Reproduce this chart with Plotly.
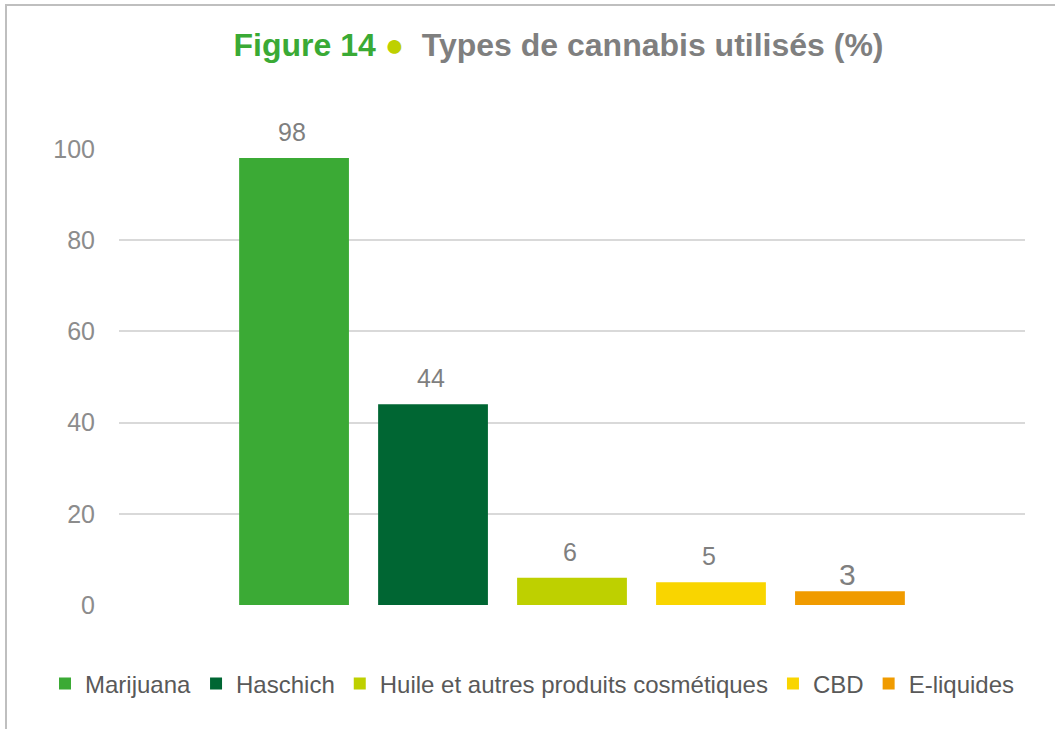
import plotly.graph_objects as go

categories = ["Marijuana", "Haschich", "Huile et autres produits cosmétiques", "CBD", "E-liquides"]
values = [98, 44, 6, 5, 3]
colors = ["#3BAA35", "#006633", "#BED000", "#F9D500", "#F09B00"]
y_ticks = [0, 20, 40, 60, 80, 100]

# label styles (not data)
label_sizes = [25, 25, 25, 25, 30]
label_shifts = [10, 10, 10, 10, -2]

W, H = 1055, 729
ml, mr, mt, mb = 119, 30, 149, 124
pw, ph = W - ml - mr, H - mt - mb
bargap, bargroupgap = 0.233, 0.21
slot_px = pw * (1 - bargap) / len(categories)

FONT = "Liberation Sans, Arial, sans-serif"

fig = go.Figure()
for name, v, c in zip(categories, values, colors):
    fig.add_trace(go.Bar(
        x=[""], y=[v], name=name, marker=dict(color=c, line=dict(width=0)),
        hoverinfo="name+y",
    ))

annotations = []
n = len(categories)
for i, (v, s, sh) in enumerate(zip(values, label_sizes, label_shifts)):
    annotations.append(dict(
        x="", y=v, xref="x", yref="y", text=str(v), showarrow=False,
        xanchor="center", yanchor="bottom", xshift=(i - (n - 1) / 2) * slot_px - 2, yshift=sh,
        font=dict(size=s, color="#7F7F7F", family=FONT),
    ))

def px_x(p):
    return (p - ml) / pw

def px_y(p):
    return (H - mb - p) / ph

fig.update_layout(
    width=W, height=H,
    margin=dict(l=ml, r=mr, t=mt, b=mb, autoexpand=False),
    barmode="group", bargap=bargap, bargroupgap=bargroupgap,
    plot_bgcolor="white", paper_bgcolor="white",
    font=dict(family=FONT, color="#808080"),
    title=dict(
        text="<b><span style='color:#3AAA35'>Figure 14</span> <span style='color:#BED000'>●</span>  <span style='color:#7F7F7F'>Types de cannabis utilisés (%)</span></b>",
        xref="container", x=558.5 / W, xanchor="center", yref="container", y=1 - 45 / H, yanchor="middle",
        font=dict(size=32, family=FONT),
    ),
    xaxis=dict(showticklabels=False, showgrid=False, zeroline=False, showline=False, range=[-0.5, 0.5]),
    yaxis=dict(range=[0, 100], tickvals=y_ticks, showgrid=True, gridcolor="#D9D9D9", gridwidth=1.5,
               zeroline=False, showline=False, ticks="", ticklen=0,
               tickfont=dict(size=25, color="#8C8C8C", family=FONT), ticklabelstandoff=23),
    showlegend=True,
    legend=dict(orientation="h", xref="paper", x=px_x(45), xanchor="left",
                yref="paper", y=px_y(684), yanchor="middle",
                font=dict(size=24, color="#595959", family=FONT), itemwidth=30, traceorder="normal",
                tracegroupgap=0, bgcolor="rgba(0,0,0,0)"),
    annotations=annotations,
    shapes=[
        dict(type="rect", xref="paper", yref="paper", x0=px_x(6), x1=px_x(1070), y0=px_y(5), y1=px_y(745),
             line=dict(color="#BFBFBF", width=2), fillcolor="rgba(0,0,0,0)", layer="above"),
    ],
)

fig.write_html("out.html", config={"displayModeBar": False},
               post_script="document.body.style.margin='0px';")
